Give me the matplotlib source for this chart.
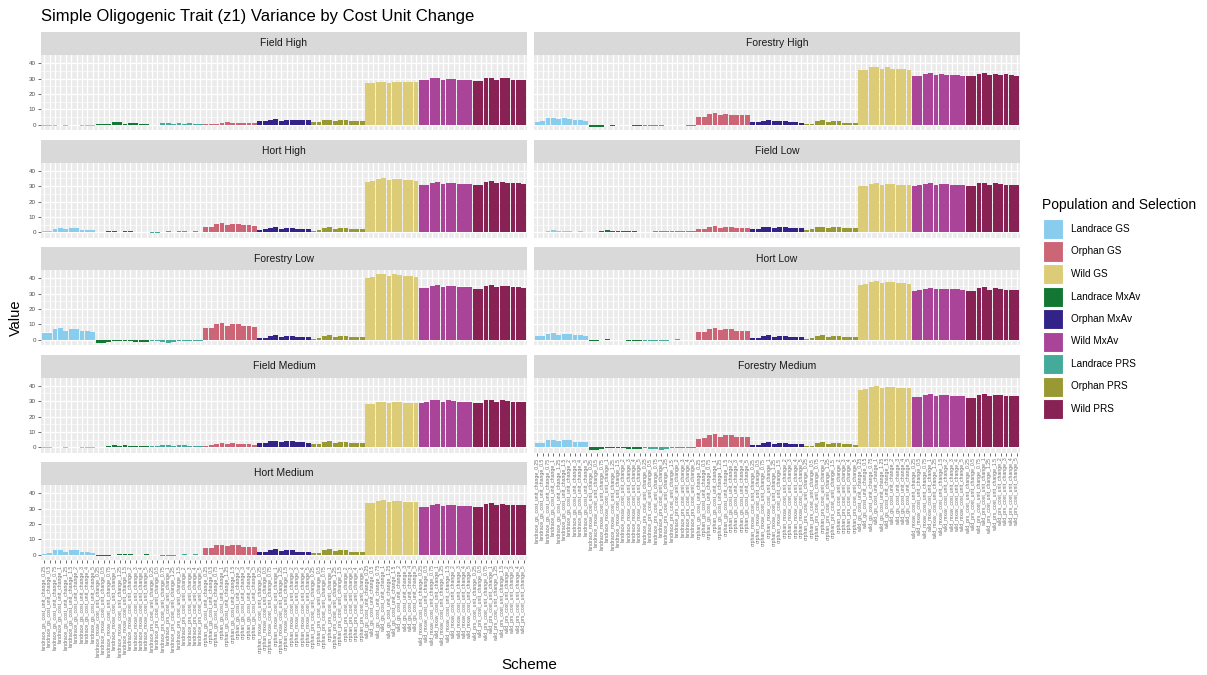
import matplotlib.pyplot as plt
import numpy as np

plt.rcParams['font.family'] = ['Liberation Sans', 'DejaVu Sans']

# selection groups in x order, 10 schemes each
groups = ["Landrace GS", "Landrace MxAv", "Landrace PRS",
          "Orphan GS", "Orphan MxAv", "Orphan PRS",
          "Wild GS", "Wild MxAv", "Wild PRS"]
scheme_prefixes = ["landrace_gs", "landrace_mxav", "landrace_prs",
                   "orphan_gs", "orphan_mxav", "orphan_prs",
                   "wild_gs", "wild_mxav", "wild_prs"]
cost_suffixes = ["cost_unit_change_0.25", "cost_unit_change_0.5", "cost_unit_change_0.75",
                 "cost_unit_change_1", "cost_unit_change_1.25", "cost_unit_change_1.5",
                 "cost_unit_change_2", "cost_unit_change_3", "cost_unit_change_4",
                 "cost_unit_change_5"]

legend_order = ["Landrace GS", "Orphan GS", "Wild GS",
                "Landrace MxAv", "Orphan MxAv", "Wild MxAv",
                "Landrace PRS", "Orphan PRS", "Wild PRS"]
palette = ["#88CCEE", "#CC6677", "#DDCC77",
           "#117733", "#332288", "#AA4499",
           "#44AA99", "#999933", "#882255"]

panel_titles = ["Field High", "Forestry High", "Hort High", "Field Low",
                "Forestry Low", "Hort Low", "Field Medium", "Forestry Medium",
                "Hort Medium"]

field_high = [
    -0.7, -0.7, -0.5, 0.1, -0.5, 0.1, 0.1, -0.4, -0.4, -0.4,
    0.3, 0.3, 0.6, 1.8, 1.9, 0.6, 1.0, 1.0, 0.7, 0.5,
    0.0, 0.1, 1.5, 1.5, 0.9, 1.2, 0.9, 1.0, 0.6, 0.5,
    0.5, 0.5, 0.8, 1.5, 1.6, 1.0, 1.4, 1.2, 1.0, 1.0,
    2.5, 2.6, 3.3, 4.0, 2.8, 3.5, 3.5, 3.0, 3.0, 2.9,
    1.8, 1.8, 3.0, 3.5, 2.5, 3.0, 3.3, 2.6, 2.6, 2.4,
    27.0, 27.3, 27.8, 28.0, 27.4, 27.9, 28.0, 27.7, 27.6, 27.5,
    28.8, 28.8, 30.1, 30.7, 29.2, 29.9, 29.9, 29.2, 29.2, 29.2,
    28.2, 28.2, 30.3, 30.6, 29.3, 30.1, 30.3, 29.3, 29.3, 29.2,
]
forestry_high = [
    2.2, 2.8, 4.3, 4.5, 3.9, 4.5, 3.9, 3.2, 3.2, 2.8,
    -1.1, -1.1, -1.1, 0.0, -0.4, 0.1, -0.3, -0.3, -0.5, -0.5,
    -0.5, -0.5, -1.0, -1.0, -0.2, 0.2, -0.3, 0.0, -0.4, -0.4,
    5.0, 5.0, 7.1, 7.8, 6.7, 7.1, 6.7, 6.1, 6.1, 6.1,
    1.7, 1.7, 2.8, 3.2, 2.4, 2.8, 2.4, 1.9, 1.9, 1.5,
    0.6, 0.9, 2.8, 3.2, 1.9, 2.8, 2.4, 1.5, 1.5, 1.5,
    35.3, 35.7, 37.4, 37.4, 36.4, 37.4, 36.4, 36.4, 36.4, 35.7,
    31.8, 32.0, 33.1, 33.5, 32.5, 33.1, 32.5, 32.5, 32.5, 32.0,
    31.4, 31.4, 33.1, 33.8, 32.5, 33.1, 32.5, 33.1, 32.5, 32.0,
]
hort_high = [
    1.0, 1.2, 2.5, 3.0, 2.2, 2.8, 2.6, 1.8, 1.8, 1.4,
    0.0, 0.2, 0.8, 1.2, 0.3, 0.9, 1.0, 0.3, 0.4, 0.2,
    -0.5, -0.6, 0.2, 0.7, 0.3, 0.9, 0.6, 0.4, 0.6, 0.5,
    3.5, 3.8, 5.5, 6.0, 4.8, 5.5, 5.4, 4.6, 4.6, 4.4,
    1.8, 1.9, 3.0, 3.4, 2.4, 3.0, 3.0, 2.2, 2.2, 2.0,
    1.2, 1.3, 3.0, 3.5, 2.4, 3.0, 3.1, 2.2, 2.3, 2.1,
    32.8, 33.2, 34.5, 35.0, 33.8, 34.5, 34.5, 33.8, 33.8, 33.5,
    30.8, 31.0, 32.2, 32.7, 31.5, 32.2, 32.0, 31.5, 31.5, 31.3,
    30.5, 30.6, 32.5, 33.2, 31.8, 32.5, 32.0, 31.8, 31.8, 31.5,
]
field_low = [
    0.2, 0.3, 0.9, 1.3, 0.6, 1.0, 1.0, 0.5, 0.6, 0.4,
    0.3, 0.4, 1.0, 1.4, 0.7, 1.1, 1.1, 0.7, 0.7, 0.5,
    0.1, 0.2, 0.8, 1.1, 0.6, 0.9, 0.9, 0.6, 0.7, 0.6,
    2.3, 2.5, 3.6, 4.0, 3.0, 3.6, 3.5, 3.0, 3.0, 2.8,
    2.2, 2.4, 3.4, 3.8, 2.9, 3.4, 3.4, 2.9, 2.9, 2.7,
    1.8, 2.0, 3.3, 3.8, 2.8, 3.4, 3.4, 2.8, 2.8, 2.6,
    30.0, 30.3, 31.5, 32.0, 30.9, 31.5, 31.5, 31.0, 31.0, 30.8,
    30.2, 30.4, 31.6, 32.0, 31.0, 31.6, 31.6, 31.0, 31.0, 30.8,
    30.0, 30.2, 31.8, 32.3, 31.0, 31.8, 31.6, 31.0, 31.0, 30.8,
]
forestry_low = [
    4.2, 4.6, 6.8, 7.4, 5.8, 6.9, 6.8, 5.6, 5.6, 5.2,
    -1.8, -1.8, -1.6, -0.6, -1.0, -0.8, -1.0, -1.2, -1.3, -1.2,
    -0.8, -1.0, -1.5, -1.8, -1.6, -0.6, -0.4, -0.8, -0.5, -0.8,
    7.5, 8.0, 10.2, 10.8, 9.2, 10.2, 10.0, 8.8, 8.8, 8.5,
    1.0, 1.2, 2.8, 3.2, 2.0, 2.6, 2.8, 2.0, 2.0, 1.8,
    0.8, 1.0, 2.6, 3.0, 1.8, 2.6, 2.6, 1.8, 1.8, 1.6,
    40.0, 40.5, 42.5, 43.0, 41.5, 42.5, 42.3, 41.5, 41.5, 41.0,
    33.5, 33.8, 35.0, 35.5, 34.3, 35.0, 34.8, 34.3, 34.3, 34.0,
    33.0, 33.2, 35.0, 35.6, 34.0, 35.0, 34.8, 34.2, 34.2, 33.8,
]
hort_low = [
    2.3, 2.6, 3.8, 4.2, 3.3, 3.9, 3.8, 3.0, 3.0, 2.8,
    -0.8, -0.8, -0.2, 0.3, -0.3, 0.0, -0.2, -0.4, -0.4, -0.5,
    -0.4, -0.6, -0.9, -1.0, -0.6, 0.2, 0.3, -0.2, 0.1, -0.3,
    5.0, 5.3, 7.0, 7.6, 6.2, 7.0, 6.9, 6.0, 6.0, 5.8,
    1.3, 1.5, 2.8, 3.2, 2.2, 2.8, 2.8, 2.0, 2.0, 1.8,
    0.8, 1.0, 2.7, 3.1, 2.0, 2.7, 2.7, 1.9, 1.9, 1.7,
    35.5, 36.0, 37.5, 38.0, 36.8, 37.5, 37.3, 36.8, 36.8, 36.5,
    32.0, 32.2, 33.3, 33.8, 32.7, 33.3, 33.2, 32.7, 32.7, 32.5,
    31.5, 31.6, 33.5, 34.0, 32.6, 33.5, 33.2, 32.6, 32.6, 32.3,
]
field_medium = [
    -0.6, -0.5, 0.0, 0.4, -0.3, 0.2, 0.2, -0.3, -0.3, -0.4,
    0.4, 0.5, 1.2, 1.7, 0.8, 1.3, 1.2, 0.8, 0.8, 0.6,
    0.6, 0.7, 1.3, 1.8, 1.0, 1.4, 1.3, 1.0, 1.0, 0.9,
    1.2, 1.4, 2.5, 3.0, 2.0, 2.6, 2.5, 2.0, 2.0, 1.8,
    2.6, 2.8, 3.9, 4.4, 3.3, 3.9, 3.9, 3.3, 3.3, 3.1,
    2.0, 2.2, 3.8, 4.3, 3.1, 3.8, 3.8, 3.1, 3.1, 2.9,
    28.0, 28.3, 29.2, 29.6, 28.7, 29.2, 29.2, 28.7, 28.7, 28.5,
    29.0, 29.2, 30.4, 30.9, 29.7, 30.4, 30.3, 29.7, 29.7, 29.5,
    28.8, 29.0, 30.6, 31.0, 29.7, 30.5, 30.3, 29.7, 29.7, 29.5,
]
forestry_medium = [
    2.8, 3.1, 4.6, 5.0, 3.9, 4.6, 4.5, 3.7, 3.7, 3.4,
    -1.4, -1.4, -1.3, -0.3, -0.6, -0.3, -0.6, -0.8, -0.8, -0.9,
    -0.6, -0.8, -1.2, -1.4, -1.2, -0.3, -0.1, -0.5, -0.3, -0.6,
    5.5, 5.8, 8.0, 8.6, 7.0, 8.0, 7.9, 6.8, 6.8, 6.5,
    1.5, 1.7, 3.0, 3.4, 2.4, 3.0, 3.0, 2.2, 2.2, 2.0,
    0.8, 1.0, 2.9, 3.4, 2.2, 2.9, 2.9, 2.0, 2.0, 1.8,
    37.2, 37.6, 39.4, 40.0, 38.5, 39.4, 39.2, 38.5, 38.5, 38.2,
    32.5, 32.7, 33.9, 34.4, 33.2, 33.9, 33.7, 33.2, 33.2, 33.0,
    32.2, 32.3, 34.2, 34.7, 33.3, 34.2, 33.9, 33.3, 33.3, 33.0,
]
hort_medium = [
    0.9, 1.1, 2.9, 3.3, 2.2, 2.9, 2.9, 1.8, 1.8, 1.1,
    -0.6, -0.6, -0.4, 0.2, 0.4, 0.6, 0.8, -0.2, 0.2, 0.3,
    0.0, -0.2, -0.8, -0.8, -0.5, 0.2, 0.5, 0.0, 0.3, -0.3,
    4.2, 4.4, 6.2, 6.6, 5.5, 6.2, 6.2, 5.1, 5.1, 5.1,
    1.8, 1.8, 3.3, 3.7, 2.6, 3.3, 3.3, 2.2, 2.2, 1.8,
    1.1, 1.1, 3.3, 3.7, 2.6, 3.3, 3.3, 2.2, 2.2, 2.2,
    33.4, 33.6, 35.2, 35.8, 34.5, 35.2, 35.2, 34.1, 34.1, 34.1,
    31.2, 31.2, 32.5, 33.0, 31.9, 32.5, 32.5, 31.9, 31.9, 31.9,
    30.8, 30.8, 33.0, 33.4, 32.3, 33.0, 32.5, 32.3, 32.3, 32.3,
]

panel_values = [field_high, forestry_high, hort_high, field_low, forestry_low,
                hort_low, field_medium, forestry_medium, hort_medium]

n_per_group = len(cost_suffixes)
schemes = [f"{p}_{s}" for p in scheme_prefixes for s in cost_suffixes]
bar_colors = [palette[legend_order.index(g)] for g in groups for _ in range(n_per_group)]
x = np.arange(1, len(schemes) + 1)

W, H = 1207, 675
fig = plt.figure(figsize=(W / 100, H / 100), dpi=100)


def frac(x0, y0, x1, y1):
    return [x0 / W, 1 - y1 / H, (x1 - x0) / W, (y1 - y0) / H]


col_edges = [(41, 527), (534, 1020)]
row_tops = [55, 162.5, 270, 377.5, 485]
strip_h, panel_h = 23, 75

for i, (title, vals) in enumerate(zip(panel_titles, panel_values)):
    row, col = divmod(i, 2)
    x0, x1 = col_edges[col]
    top = row_tops[row]
    ax = fig.add_axes(frac(x0, top, x1, top + panel_h))
    ax.set_facecolor("#EBEBEB")
    ax.bar(x, vals, width=0.9, color=bar_colors, zorder=3)
    ax.set_xlim(0.4, len(schemes) + 0.6)
    ax.set_ylim(-3.3, 45.3)
    ax.set_yticks([0, 10, 20, 30, 40])
    ax.set_yticks([5, 15, 25, 35], minor=True)
    ax.set_xticks(x)
    ax.grid(which="major", color="white", linewidth=0.9, zorder=0)
    ax.grid(which="minor", axis="y", color="white", linewidth=0.45, zorder=0)
    for s in ax.spines.values():
        s.set_visible(False)
    ax.tick_params(which="minor", length=0)
    ax.tick_params(axis="both", which="major", length=2.2, width=0.5,
                   color="#333333", labelcolor="#4D4D4D", labelsize=4.5, pad=1.5)
    if col == 1:
        ax.tick_params(axis="y", labelleft=False, length=0)
    bottom_row = (i == len(panel_titles) - 1) or (i == len(panel_titles) - 2)
    if bottom_row:
        ax.set_xticklabels(schemes, rotation=90, fontsize=3.7, color="#6E6E6E")
    else:
        ax.tick_params(axis="x", labelbottom=False, length=0)

    sax = fig.add_axes(frac(x0, top - strip_h, x1, top))
    sax.set_facecolor("#D9D9D9")
    sax.set_xticks([])
    sax.set_yticks([])
    for s in sax.spines.values():
        s.set_visible(False)
    sax.text(0.5, 0.5, title, ha="center", va="center", fontsize=7.5,
             color="#1A1A1A", transform=sax.transAxes)

fig.text(41 / W, 1 - 17 / H, "Simple Oligogenic Trait (z1) Variance by Cost Unit Change",
         ha="left", va="center", fontsize=12)
fig.text(16 / W, 1 - 318 / H, "Value", rotation=90, ha="center", va="center", fontsize=10.5)
fig.text(529 / W, 1 - 665 / H, "Scheme", ha="center", va="center", fontsize=11)

# legend
fig.text(1042 / W, 1 - 205 / H, "Population and Selection", ha="left", va="center",
         fontsize=10)
for k, (name, c) in enumerate(zip(legend_order, palette)):
    ktop = 219 + k * 22.5
    fig.patches.append(plt.Rectangle((1043 / W, 1 - (ktop + 20) / H), 20 / W, 20 / H,
                                     transform=fig.transFigure, facecolor=c,
                                     edgecolor="white", linewidth=0.8))
    fig.text(1071 / W, 1 - (ktop + 10) / H, name, ha="left", va="center", fontsize=7.2)

fig.savefig("out.png", dpi=100, facecolor="white")
